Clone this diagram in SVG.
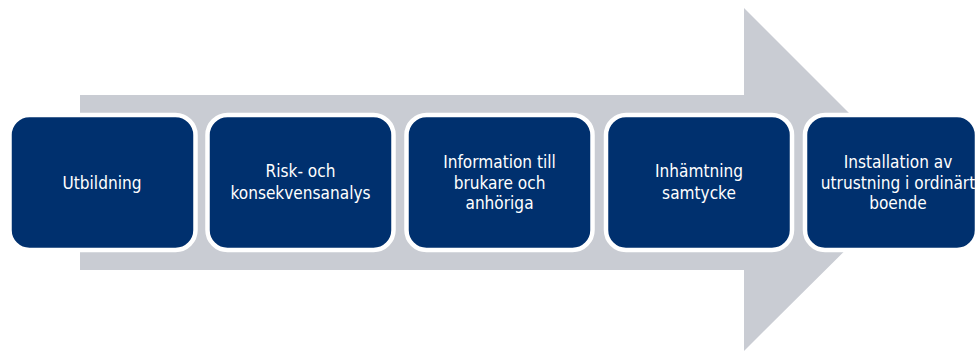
<svg xmlns="http://www.w3.org/2000/svg" width="979" height="351" viewBox="0 0 979 351">
  <style>
    .step { fill: #00306e; stroke: #ffffff; stroke-width: 4.5; }
    .label { fill: #ffffff; font-family: "DejaVu Sans Condensed", "DejaVu Sans", sans-serif; font-stretch: condensed; font-size: 18px; text-anchor: middle; }
  </style>
  <rect width="979" height="351" fill="#ffffff"/>

  <!-- background process arrow -->
  <g id="connectors">
    <polygon points="80,95 744,95 744,8 916,180 744,351 744,270 80,270" fill="#c9ccd3"/>
  </g>

  <g id="step1">
    <rect class="step" x="9.5" y="115" width="186" height="135" rx="20"/>
    <g transform="translate(102,0) scale(0.95,1)">
      <text class="label" x="0" y="189">Utbildning</text>
    </g>
  </g>

  <g id="step2">
    <rect class="step" x="207.5" y="115" width="186" height="135" rx="20"/>
    <g transform="translate(300.5,0) scale(0.95,1)">
      <text class="label" x="0" y="177.5">Risk- och</text>
      <text class="label" x="0" y="199">konsekvensanalys</text>
    </g>
  </g>

  <g id="step3">
    <rect class="step" x="406.5" y="115" width="186" height="135" rx="20"/>
    <g transform="translate(499.5,0) scale(0.95,1)">
      <text class="label" x="0" y="168">Information till</text>
      <text class="label" x="0" y="189">brukare och</text>
      <text class="label" x="0" y="209.5">anhöriga</text>
    </g>
  </g>

  <g id="step4">
    <rect class="step" x="606" y="115" width="186" height="135" rx="20"/>
    <g transform="translate(699,0) scale(0.95,1)">
      <text class="label" x="0" y="177.5">Inhämtning</text>
      <text class="label" x="0" y="199">samtycke</text>
    </g>
  </g>

  <g id="step5">
    <rect class="step" x="805" y="115" width="172" height="135" rx="20"/>
    <g transform="translate(898,0) scale(0.95,1)">
      <text class="label" x="0" y="168">Installation av</text>
      <text class="label" x="0" y="189">utrustning i ordinärt</text>
      <text class="label" x="0" y="209.5">boende</text>
    </g>
  </g>
</svg>
